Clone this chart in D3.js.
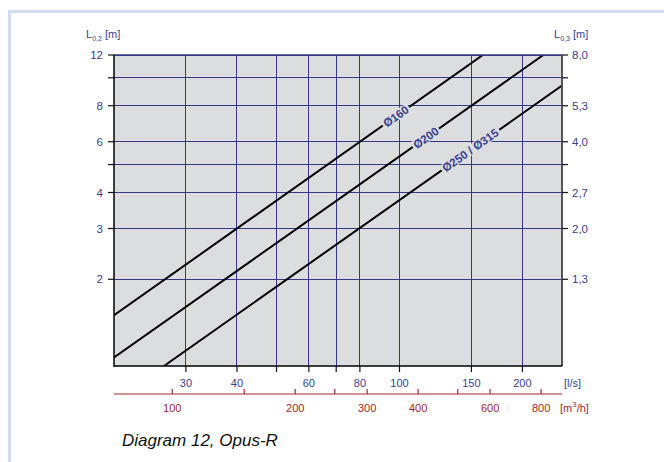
<!DOCTYPE html>
<html><head><meta charset="utf-8">
<script src="https://cdn.jsdelivr.net/npm/d3@7"></script>
<style>html,body{margin:0;padding:0;background:#fff;}svg{display:block;font-family:"Liberation Sans",Arial,sans-serif;}</style>
</head><body><svg id="c" width="664" height="462"></svg>
<script>
// Flow (l/s) ticks and labels
const flowTicks = [30, 40, 50, 60, 70, 80, 100, 150, 200];
const flowLabels = ["30", "40", "", "60", "", "80", "100", "150", "200"];
// Flow (m3/h) ticks and labels
const volTicks = [100, 150, 200, 250, 300, 400, 500, 600, 800];
const volLabels = ["100", "", "200", "", "300", "400", "", "600", "800"];
// Left axis L0,2
const leftTicks = [12, 10, 8, 6, 5, 4, 3, 2];
const leftLabels = ["12", "", "8", "6", "", "4", "3", "2"];
// Right axis L0,3
const rightTicks = [8, 6.667, 5.333, 4, 3.333, 2.667, 2, 1.333];
const rightLabels = ["8,0", "", "5,3", "4,0", "", "2,7", "2,0", "1,3"];
// Series: [flow l/s, L0,2 m]
const seriesNames = ["Ø160", "Ø200", "Ø250 / Ø315"];
const series160 = [[20, 1.5], [160, 12]];
const series200 = [[20, 1.07], [225, 12]];
const series250 = [[26.5, 1.0], [250, 9.4]];
const labelFlow = [98, 116, 149];

const svg = d3.select("#c");
const L = 114, R = 562, T = 55, B = 366;
const x = d3.scaleLog().domain([20, 250]).range([L, R]);
const xm = d3.scaleLog().domain([20 * 3.6, 250 * 3.6]).range([L, R]);
const y = d3.scaleLog().domain([1, 12]).range([B, T]);
const yr = d3.scaleLog().domain([2 / 3, 8]).range([B, T]);

const navy = "#3b3e8e", grid = "#34388a", red = "#a0282c";

// frame
svg.append("path").attr("d", "M9.5,462 V11.5 H664").attr("fill", "none").attr("stroke", "#d2daf1").attr("stroke-width", 3);

// plot bg
svg.append("rect").attr("x", L).attr("y", T).attr("width", R - L).attr("height", B - T).attr("fill", "#dcdddf");

const defs = svg.append("defs");
defs.append("clipPath").attr("id", "clip").append("rect").attr("x", L).attr("y", T).attr("width", R - L).attr("height", B - T);

// grid
const g = svg.append("g");
flowTicks.forEach(v => g.append("line").attr("x1", x(v)).attr("x2", x(v)).attr("y1", T).attr("y2", B).attr("stroke", grid).attr("stroke-width", 1).attr("shape-rendering", "crispEdges"));
leftTicks.forEach(v => g.append("line").attr("x1", L).attr("x2", R).attr("y1", y(v)).attr("y2", y(v)).attr("stroke", grid).attr("stroke-width", 1).attr("shape-rendering", "crispEdges"));

// series lines
const line = d3.line().x(d => x(d[0])).y(d => y(d[1]));
const allSeries = [series160, series200, series250];
const lg = svg.append("g").attr("clip-path", "url(#clip)");
allSeries.forEach(s => lg.append("path").attr("d", line(s)).attr("fill", "none").attr("stroke", "#000").attr("stroke-width", 2));

// line labels
const ang = Math.atan2(y(10) - y(1), x(200) - x(20)) * 180 / Math.PI;
allSeries.forEach((s, i) => {
  const q = labelFlow[i];
  const k = Math.log(s[1][1] / s[0][1]) / Math.log(s[1][0] / s[0][0]);
  const Lv = s[0][1] * Math.pow(q / s[0][0], k);
  const gg = svg.append("g").attr("transform", `translate(${x(q)},${y(Lv)}) rotate(${ang})`);
  const t = gg.append("text").attr("text-anchor", "middle").attr("dy", "0.36em")
    .attr("font-size", 11.5).attr("font-weight", "bold").attr("fill", navy).text(seriesNames[i]);
  const bb = t.node().getBBox();
  gg.insert("rect", "text").attr("x", bb.x - 2).attr("y", bb.y + 1).attr("width", bb.width + 4).attr("height", bb.height - 2).attr("fill", "#dcdddf");
});

// borders
svg.append("line").attr("x1", L).attr("x2", R).attr("y1", T).attr("y2", T).attr("stroke", grid).attr("stroke-width", 1.5);
svg.append("line").attr("x1", R).attr("x2", R).attr("y1", T).attr("y2", B).attr("stroke", "#555").attr("stroke-width", 2);
svg.append("line").attr("x1", L).attr("x2", L).attr("y1", T).attr("y2", B + 1).attr("stroke", "#000").attr("stroke-width", 1.5);
svg.append("line").attr("x1", L).attr("x2", R).attr("y1", B).attr("y2", B).attr("stroke", "#000").attr("stroke-width", 1.5);

// left axis
leftTicks.forEach((v, i) => {
  svg.append("line").attr("x1", L - 6).attr("x2", L).attr("y1", y(v)).attr("y2", y(v)).attr("stroke", "#111").attr("stroke-width", 1.2);
  if (leftLabels[i]) svg.append("text").attr("x", L - 11).attr("y", y(v)).attr("dy", "0.36em").attr("text-anchor", "end").attr("font-size", 11.5).attr("fill", navy).text(leftLabels[i]);
});
// right axis
rightTicks.forEach((v, i) => {
  svg.append("line").attr("x1", R).attr("x2", R + 6).attr("y1", yr(v)).attr("y2", yr(v)).attr("stroke", "#111").attr("stroke-width", 1.2);
  if (rightLabels[i]) svg.append("text").attr("x", R + 10).attr("y", yr(v)).attr("dy", "0.36em").attr("text-anchor", "start").attr("font-size", 11.5).attr("fill", navy).text(rightLabels[i]);
});

// axis titles
function lTitle(x0, sub) {
  const t = svg.append("text").attr("x", x0).attr("y", 38).attr("font-size", 11).attr("fill", navy);
  t.append("tspan").text("L");
  t.append("tspan").attr("font-size", 7).attr("dy", 3).text(sub);
  t.append("tspan").attr("dy", -3).text(" [m]");
}
lTitle(86, "0,2");
lTitle(554, "0,3");

// bottom flow l/s axis
flowTicks.forEach((v, i) => {
  svg.append("line").attr("x1", x(v)).attr("x2", x(v)).attr("y1", B).attr("y2", B + 6).attr("stroke", "#111").attr("stroke-width", 1.2);
  if (flowLabels[i]) svg.append("text").attr("x", x(v)).attr("y", 383).attr("dy", "0.36em").attr("text-anchor", "middle").attr("font-size", 11).attr("fill", navy).text(flowLabels[i]);
});
svg.append("text").attr("x", 564).attr("y", 383).attr("dy", "0.36em").attr("font-size", 11).attr("fill", navy).text("[l/s]");

// m3/h axis
svg.append("line").attr("x1", L).attr("x2", R).attr("y1", 394).attr("y2", 394).attr("stroke", red).attr("stroke-width", 1.2);
volTicks.forEach((v, i) => {
  svg.append("line").attr("x1", xm(v)).attr("x2", xm(v)).attr("y1", 389).attr("y2", 394).attr("stroke", red).attr("stroke-width", 1.2);
  if (volLabels[i]) svg.append("text").attr("x", xm(v)).attr("y", 408).attr("dy", "0.36em").attr("text-anchor", "middle").attr("font-size", 11).attr("fill", red).text(volLabels[i]);
});
const mt = svg.append("text").attr("x", 560).attr("y", 408).attr("dy", "0.36em").attr("font-size", 11).attr("fill", red);
mt.append("tspan").text("[m");
mt.append("tspan").attr("font-size", 8).attr("dy", -5).text("3");
mt.append("tspan").attr("dy", 5).text("/h]");

// caption
svg.append("text").attr("x", 122).attr("y", 446).attr("font-size", 17).attr("font-style", "italic").attr("fill", "#111").text("Diagram 12, Opus-R");
</script></body></html>
